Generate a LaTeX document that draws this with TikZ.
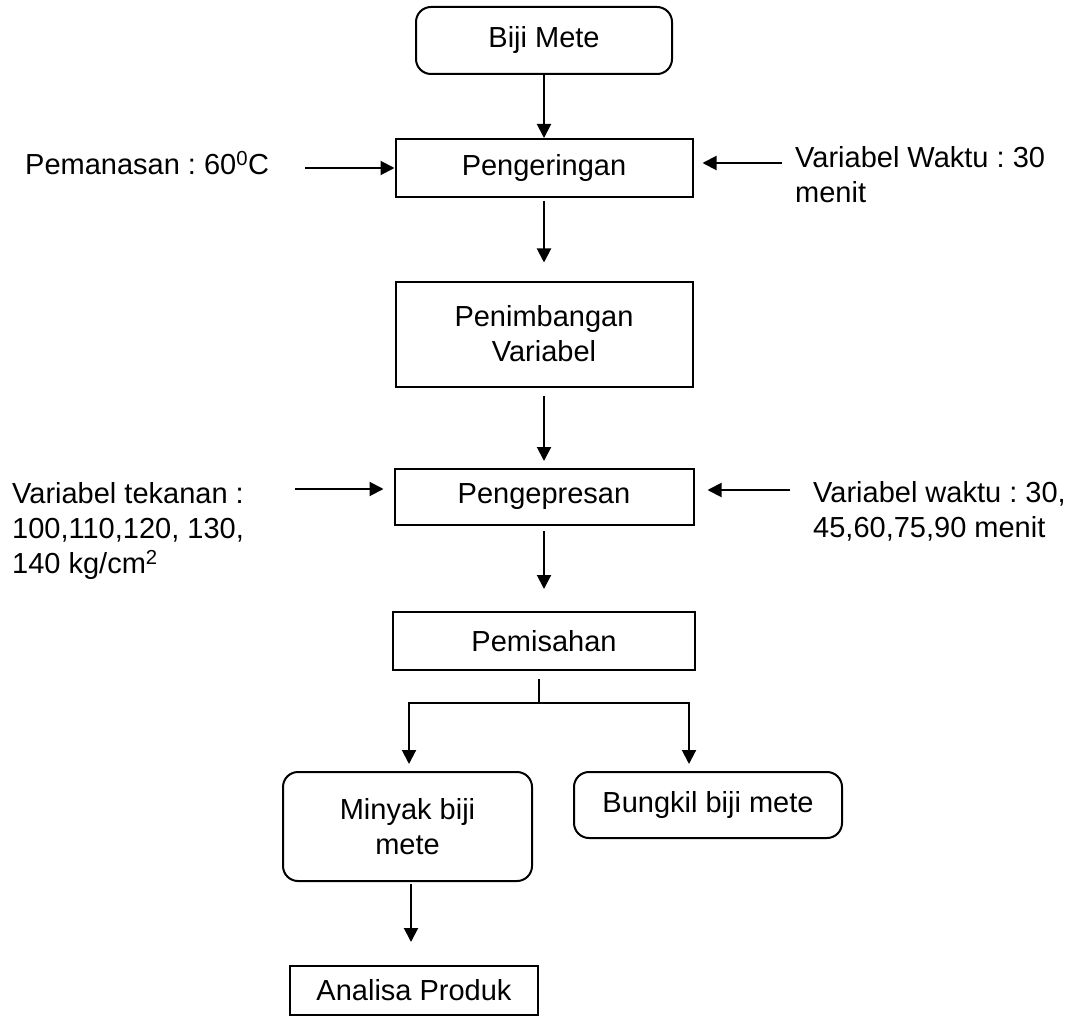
\documentclass[tikz,border=0pt]{standalone}
\usepackage{fontspec}
\setmainfont{Liberation Sans}
\usetikzlibrary{arrows.meta}
\begin{document}
\begin{tikzpicture}[x=1pt,y=-1pt,
  every node/.style={font=\fontsize{29}{35}\selectfont\frenchspacing},
  pbox/.style={draw, line width=2pt, inner sep=0pt, align=center},
  rbox/.style={pbox, rounded corners=15pt},
  txt/.style={inner sep=0pt, align=left},
  arr/.style={line width=2pt, -{Triangle[length=14pt,width=14pt]}},
  ln/.style={line width=2pt}]
\useasboundingbox (0,0) rectangle (1078,1016);
% boxes
\node[rbox, minimum width=256pt, minimum height=67pt] (biji) at (544,40.5) {Biji Mete};
\node[pbox, minimum width=297pt, minimum height=58pt] (kering) at (544,168) {Pengeringan};
\node[pbox, minimum width=297pt, minimum height=105pt] (timbang) at (544,334) {Penimbangan\\Variabel};
\node[pbox, minimum width=299pt, minimum height=56pt] (press) at (544,497) {Pengepresan};
\node[pbox, minimum width=302pt, minimum height=58pt] (pisah) at (544,641) {Pemisahan};
\node[rbox, minimum width=249pt, minimum height=109pt] (minyak) at (407.5,826.5) {Minyak biji\\mete};
\node[rbox, minimum width=268pt, minimum height=66pt] (bungkil) at (708,805) {Bungkil biji mete};
\node[pbox, minimum width=248pt, minimum height=49pt] (analisa) at (414,990.5) {Analisa Produk};
% side texts
\node[txt, anchor=base west] (pemanasan) at (25,175) {Pemanasan : 60\textsuperscript{0}C};
\node[txt, anchor=north west] (waktu1) at (795,146) {Variabel Waktu : 30\\menit};
\node[txt, anchor=north west] (tekanan) at (12,482) {Variabel tekanan :\\100,110,120, 130,\\140 kg/cm\textsuperscript{2}};
\node[txt, anchor=north west] (waktu2) at (813,481) {Variabel waktu : 30,\\45,60,75,90 menit};
% tails of side arrows
\coordinate (pA) at (305,168);
\coordinate (wA) at (782,163);
\coordinate (tA) at (295,489);
\coordinate (w2A) at (790,490);
\coordinate (branch) at (539,703);
% main flow
\draw[arr] (biji.south) -- (kering.north);
\draw[arr] ([yshift=-3pt]kering.south) -- ([yshift=18pt]timbang.north);
\draw[arr] ([yshift=-8pt]timbang.south) -- ([yshift=7pt]press.north);
\draw[arr] ([yshift=-5pt]press.south) -- ([yshift=22pt]pisah.north);
\draw[ln] ([xshift=-5pt,yshift=-8pt]pisah.south) -- (branch);
\draw[arr] (branch) -| ([xshift=1.5pt,yshift=7pt]minyak.north);
\draw[arr] (branch) -| ([xshift=-19pt,yshift=7pt]bungkil.north);
\draw[arr] ([xshift=3.5pt,yshift=-2pt]minyak.south) -- ([xshift=-3pt,yshift=23pt]analisa.north);
% side arrows
\draw[arr] (pA) -- (kering.west |- pA);
\draw[arr] (wA) -- ([xshift=9pt]kering.east |- wA);
\draw[arr] (tA) -- ([xshift=-10pt]press.west |- tA);
\draw[arr] (w2A) -- ([xshift=13pt]press.east |- w2A);
\end{tikzpicture}
\end{document}
